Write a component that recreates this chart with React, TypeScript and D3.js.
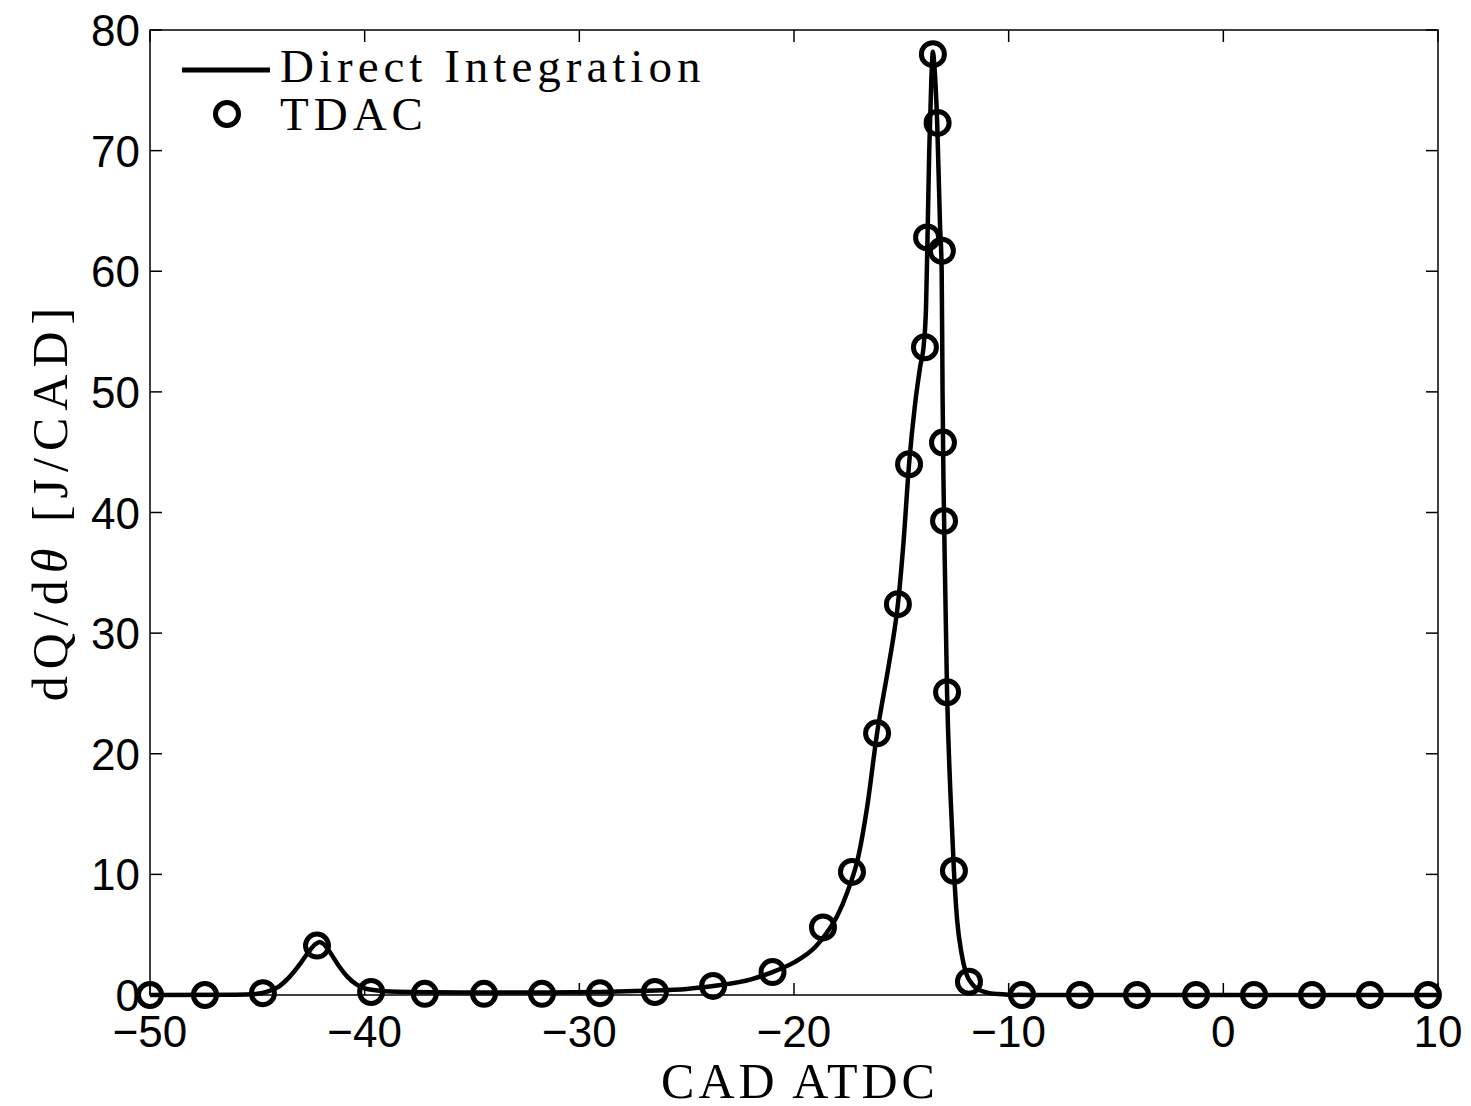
import React, { useEffect, useRef } from 'react'
import * as d3 from 'd3'

// Direct Integration curve (CAD ATDC, J/CAD)
const lineCad = [-50, -46, -45, -44.5, -44, -43.5, -43, -42.6, -42.3, -42.1, -41.9, -41.6, -41.2, -40.8, -40.4, -40, -39.5, -38, -35, -32, -29, -27, -25, -23.5, -22, -21, -20, -19, -18.5, -18, -17.5, -17, -16.6, -16.13, -15.6, -15.3, -15.16, -14.9, -14.64, -14.36, -14.13, -13.95, -13.85, -13.78, -13.7, -13.6, -13.53, -13.46, -13.33, -13.2, -13.12, -13.08, -13.04, -13.0, -12.87, -12.72, -12.55, -12.4, -12.2, -12.0, -11.7, -11.4, -11, -10.5, -10, -9, 0, 10]
const lineHrr = [0, 0.02, 0.1, 0.3, 0.7, 1.5, 2.6, 3.6, 4.2, 4.4, 4.2, 3.5, 2.4, 1.5, 0.9, 0.55, 0.4, 0.25, 0.2, 0.2, 0.25, 0.35, 0.5, 0.8, 1.3, 1.9, 2.7, 4.0, 5.1, 6.5, 8.6, 11.5, 15.5, 21.7, 27.2, 30.5, 32.4, 37.5, 44, 49, 52, 54, 57, 62.8, 70, 76, 78.2, 77, 72.3, 64, 60, 50, 43, 38.5, 25.1, 17, 10.3, 6.2, 3.5, 1.9, 0.9, 0.45, 0.2, 0.08, 0.03, 0, 0, 0]

// TDAC markers
const tdacCad = [-50, -47.44, -44.74, -42.22, -39.7, -37.2, -34.44, -31.74, -29.04, -26.48, -23.77, -21.0, -18.65, -17.3, -16.13, -15.16, -14.64, -13.9, -13.8, -13.53, -13.31, -13.11, -13.06, -13.01, -12.87, -12.55, -11.85, -9.38, -6.68, -4.02, -1.27, 1.43, 4.13, 6.83, 9.53]
const tdacHrr = [0, 0, 0.15, 4.1, 0.25, 0.1, 0.1, 0.1, 0.15, 0.25, 0.75, 1.9, 5.6, 10.2, 21.7, 32.4, 44.0, 53.7, 62.8, 78.0, 72.3, 61.7, 45.8, 39.3, 25.1, 10.3, 1.1, 0, 0, 0, 0, 0, 0, 0, 0]

const xTicks = [-50, -40, -30, -20, -10, 0, 10]
const yTicks = [0, 10, 20, 30, 40, 50, 60, 70, 80]

const W = 1471
const H = 1106

export default function App() {
  const ref = useRef<SVGSVGElement>(null)

  useEffect(() => {
    const svg = d3.select(ref.current)
    svg.selectAll('*').remove()

    const left = 150, right = 1438, top = 30, bottom = 995
    const x = d3.scaleLinear().domain([-50, 10]).range([left, right])
    const y = d3.scaleLinear().domain([0, 80]).range([bottom, top])
    const tickFont = '"Liberation Sans", Arial, sans-serif'
    const serif = '"Liberation Serif", "Times New Roman", serif'
    const tl = 12

    // frame
    svg.append('rect')
      .attr('x', left).attr('y', top)
      .attr('width', right - left).attr('height', bottom - top)
      .attr('fill', 'none').attr('stroke', '#000').attr('stroke-width', 1.5)

    // ticks, inside on all four sides
    const g = svg.append('g').attr('stroke', '#000').attr('stroke-width', 1.5)
    xTicks.forEach(t => {
      g.append('line').attr('x1', x(t)).attr('x2', x(t)).attr('y1', bottom).attr('y2', bottom - tl)
      g.append('line').attr('x1', x(t)).attr('x2', x(t)).attr('y1', top).attr('y2', top + tl)
    })
    yTicks.forEach(t => {
      g.append('line').attr('x1', left).attr('x2', left + tl).attr('y1', y(t)).attr('y2', y(t))
      g.append('line').attr('x1', right).attr('x2', right - tl).attr('y1', y(t)).attr('y2', y(t))
    })

    const fmt = d3.format('d')
    svg.append('g').selectAll('text').data(xTicks).enter().append('text')
      .attr('x', d => x(d)).attr('y', bottom + 52)
      .attr('text-anchor', 'middle')
      .style('font-family', tickFont).style('font-size', '44px')
      .text(d => fmt(d))

    svg.append('g').selectAll('text').data(yTicks).enter().append('text')
      .attr('x', left - 10).attr('y', d => y(d) + 16)
      .attr('text-anchor', 'end')
      .style('font-family', tickFont).style('font-size', '44px')
      .text(d => fmt(d))

    // curve
    const pts: [number, number][] = lineCad.map((c, i) => [c, lineHrr[i]])
    const line = d3.line<[number, number]>()
      .x(d => x(d[0])).y(d => y(d[1]))
      .curve(d3.curveMonotoneX)
    svg.append('path')
      .attr('d', line(pts))
      .attr('fill', 'none').attr('stroke', '#000').attr('stroke-width', 4.5)
      .attr('stroke-linejoin', 'round')

    // markers
    svg.append('g').selectAll('circle').data(tdacCad).enter().append('circle')
      .attr('cx', d => x(d)).attr('cy', (d, i) => y(tdacHrr[i]))
      .attr('r', 11.5)
      .attr('fill', 'none').attr('stroke', '#000').attr('stroke-width', 5)

    // legend
    svg.append('line').attr('x1', 182).attr('x2', 270).attr('y1', 70).attr('y2', 70)
      .attr('stroke', '#000').attr('stroke-width', 5)
    svg.append('circle').attr('cx', 227).attr('cy', 114).attr('r', 11.5)
      .attr('fill', 'none').attr('stroke', '#000').attr('stroke-width', 5)
    svg.append('text').attr('x', 280).attr('y', 82)
      .style('font-family', serif).style('font-size', '47px').style('letter-spacing', '5px')
      .text('Direct Integration')
    svg.append('text').attr('x', 280).attr('y', 130)
      .style('font-family', serif).style('font-size', '47px').style('letter-spacing', '5px')
      .text('TDAC')

    // axis labels
    svg.append('text').attr('x', 800).attr('y', 1098)
      .attr('text-anchor', 'middle')
      .style('font-family', serif).style('font-size', '50px').style('letter-spacing', '4px')
      .text('CAD ATDC')

    const yl = svg.append('text')
      .attr('transform', 'translate(67,501) rotate(-90)')
      .attr('text-anchor', 'middle')
      .style('font-family', serif).style('font-size', '50px').style('letter-spacing', '7px')
    yl.append('tspan').text('dQ/d')
    yl.append('tspan').style('font-style', 'italic').text('θ')
    yl.append('tspan').text(' [J/CAD]')
  }, [])

  return (
    <svg ref={ref} width={W} height={H}
      style={{ position: 'absolute', left: 0, top: 0, background: '#fff' }} />
  )
}
